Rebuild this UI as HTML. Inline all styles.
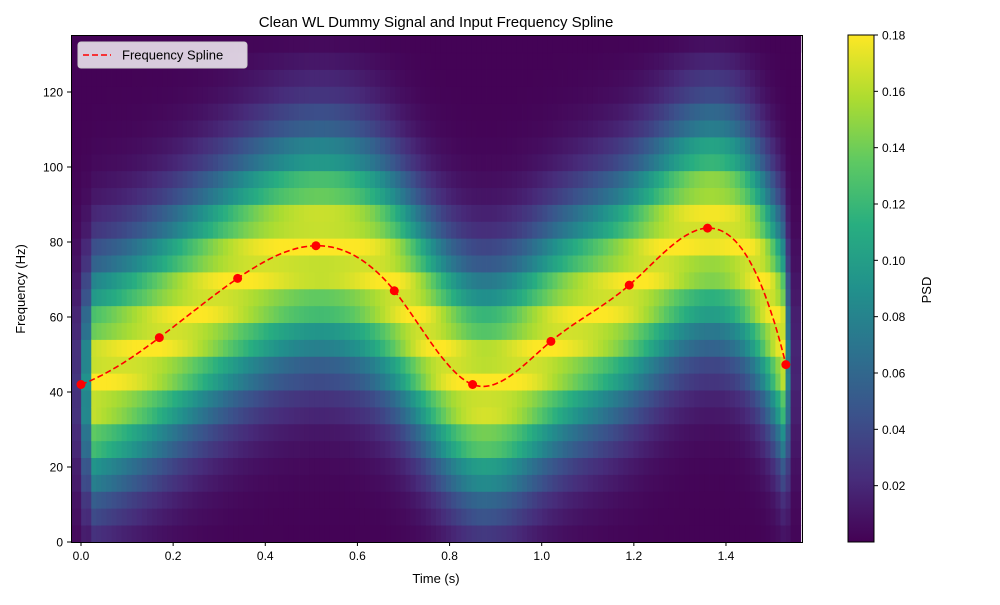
<!DOCTYPE html>
<html><head><meta charset="utf-8"><style>
body{margin:0;background:#fff;font-family:"Liberation Sans",sans-serif;}
svg text{font-family:"Liberation Sans",sans-serif;fill:#000;}
</style></head><body>
<svg id="chart" width="1000" height="600" xmlns="http://www.w3.org/2000/svg">
<text x="436" y="27" font-size="15" text-anchor="middle">Clean WL Dummy Signal and Input Frequency Spline</text>
<g id="heat"></g>
<g id="spline"></g>
<rect x="71.5" y="35.5" width="731" height="507" fill="none" stroke="#000" stroke-width="1"/>
<g id="xt"></g>
<g id="yt"></g>
<text x="436" y="583" font-size="13" text-anchor="middle">Time (s)</text>
<text x="25" y="289" font-size="13" text-anchor="middle" transform="rotate(-90 25 289)">Frequency (Hz)</text>
<g>
<rect x="78" y="42" width="169" height="26" rx="3" fill="#fff" fill-opacity="0.8" stroke="#ccc"/>
<line x1="83" y1="55" x2="111" y2="55" stroke="#f00" stroke-width="1.5" stroke-dasharray="6,3"/>
<text x="122" y="59.5" font-size="13">Frequency Spline</text>
</g>
<defs><linearGradient id="vg" x1="0" y1="1" x2="0" y2="0">
<stop offset="0" stop-color="#440154"/><stop offset="0.125" stop-color="#472d7b"/><stop offset="0.25" stop-color="#3b528b"/><stop offset="0.375" stop-color="#2c728e"/><stop offset="0.5" stop-color="#21918c"/><stop offset="0.625" stop-color="#28ae80"/><stop offset="0.75" stop-color="#5ec962"/><stop offset="0.875" stop-color="#addc30"/><stop offset="1" stop-color="#fde725"/>
</linearGradient></defs>
<rect x="848" y="35" width="26" height="507" fill="url(#vg)" stroke="#000" stroke-width="1"/>
<g id="ct"></g>
<text x="931" y="290" font-size="13" text-anchor="middle" transform="rotate(-90 931 290)">PSD</text>
</svg>
<script>
const knotTimes=[0,0.17,0.34,0.51,0.68,0.85,1.02,1.19,1.36,1.53];
const knotFreqs=[42,54.5,70.3,79,67,42,53.5,68.5,83.7,47.3];
const xTicks=[0,0.2,0.4,0.6,0.8,1.0,1.2,1.4];
const yTicks=[0,20,40,60,80,100,120];
const cTicks=[0.02,0.04,0.06,0.08,0.10,0.12,0.14,0.16,0.18];
const psdMax=0.18, bandWidthHz=21, freqBin=4.5, timeBin=0.011;
const NS="http://www.w3.org/2000/svg";
const X=t=>81+(t)*460.7, Y=f=>542-f*3.75, CY=v=>542-v*(507/0.18);
function mk(tag,a,p){const e=document.createElementNS(NS,tag);for(const k in a)e.setAttribute(k,a[k]);p.appendChild(e);return e;}
// not-a-knot cubic spline
const n=knotTimes.length;
const h=[];for(let i=0;i<n-1;i++)h.push(knotTimes[i+1]-knotTimes[i]);
const A=[],B=[];for(let i=0;i<n;i++){A.push(new Array(n).fill(0));B.push(0);}
A[0][0]=-1/h[0];A[0][1]=1/h[0]+1/h[1];A[0][2]=-1/h[1];
A[n-1][n-3]=-1/h[n-3];A[n-1][n-2]=1/h[n-3]+1/h[n-2];A[n-1][n-1]=-1/h[n-2];
for(let i=1;i<n-1;i++){A[i][i-1]=h[i-1];A[i][i]=2*(h[i-1]+h[i]);A[i][i+1]=h[i];
 B[i]=6*((knotFreqs[i+1]-knotFreqs[i])/h[i]-(knotFreqs[i]-knotFreqs[i-1])/h[i-1]);}
for(let c=0;c<n;c++){let p=c;for(let r=c+1;r<n;r++)if(Math.abs(A[r][c])>Math.abs(A[p][c]))p=r;
 [A[c],A[p]]=[A[p],A[c]];[B[c],B[p]]=[B[p],B[c]];
 for(let r=0;r<n;r++){if(r===c)continue;const f=A[r][c]/A[c][c];for(let k=c;k<n;k++)A[r][k]-=f*A[c][k];B[r]-=f*B[c];}}
const M=B.map((b,i)=>b/A[i][i]);
function spl(t){let i=0;while(i<n-2&&t>knotTimes[i+1])i++;
 const a=knotTimes[i+1]-t,b=t-knotTimes[i],hh=h[i];
 return M[i]*a*a*a/(6*hh)+M[i+1]*b*b*b/(6*hh)+(knotFreqs[i]/hh-M[i]*hh/6)*a+(knotFreqs[i+1]/hh-M[i+1]*hh/6)*b;}
const vs=[[68,1,84],[71,44,122],[59,81,139],[44,113,142],[33,144,140],[39,173,129],[92,200,99],[170,220,50],[253,231,37]];
function vir(x){x=Math.max(0,Math.min(1,x))*8;const i=Math.min(7,Math.floor(x)),f=x-i;const a=vs[i],b=vs[i+1];
 return `rgb(${a.map((c,k)=>Math.round(c+(b[k]-c)*f)).join(',')})`;}
const heat=document.getElementById('heat');
const t0=-0.0217,t1=1.555;
for(let t=t0;t<t1;t+=timeBin){
 const fc=spl(Math.min(Math.max(t,0),1.53));
 let edge=1; if(t<-0.005)edge=0.15; else if(t<0.012)edge=0.5; if(t>1.525)edge=0.45; if(t>1.54)edge=0.1;
 for(let r=0;r*freqBin<136;r++){
  const f=(r+0.5)*freqBin;const d=f-fc;
  let v=psdMax*Math.exp(-0.5*(d/bandWidthHz)**2)*(r%2?1:0.93)*edge+0.001;
  const x1=X(t),x2=Math.min(X(t+timeBin),802);
  const c=mk('rect',{x:x1.toFixed(2),y:Math.max(Y(f+freqBin/2),35).toFixed(2),width:(x2-x1+0.4).toFixed(2),height:(freqBin*3.75+0.4).toFixed(2),fill:vir(v/psdMax)},heat);
  
  
 }}
const sg=document.getElementById('spline');let d='';
for(let t=0;t<=1.53001;t+=0.005){d+=(d?'L':'M')+X(t).toFixed(1)+','+Y(spl(t)).toFixed(1);}
const pl=mk('path',{d:d,fill:'none',stroke:'#f00','stroke-width':1.6,'stroke-dasharray':'6,3'},sg);


knotTimes.forEach((t,i)=>{const c=mk('circle',{cx:X(t),cy:Y(knotFreqs[i]),r:4.5,fill:'#f00'},sg);
 
 });
const xt=document.getElementById('xt');
xTicks.forEach(v=>{const l=mk('line',{x1:X(v),x2:X(v),y1:542,y2:546,stroke:'#000'},xt);
 
 
 const tx=mk('text',{x:X(v),y:560,'font-size':12,'text-anchor':'middle'},xt);tx.textContent=v.toFixed(1);
 
 });
const yt=document.getElementById('yt');
yTicks.forEach(v=>{const l=mk('line',{x1:67,x2:71,y1:Y(v),y2:Y(v),stroke:'#000'},yt);
 
 
 const tx=mk('text',{x:63,y:Y(v)+4.5,'font-size':12,'text-anchor':'end'},yt);tx.textContent=v;
 
 });
const ct=document.getElementById('ct');
cTicks.forEach(v=>{const l=mk('line',{x1:874,x2:878,y1:CY(v),y2:CY(v),stroke:'#000'},ct);
 
 
 const tx=mk('text',{x:882,y:CY(v)+4.5,'font-size':12},ct);tx.textContent=v.toFixed(2);
 
 });
</script>
</body></html>
